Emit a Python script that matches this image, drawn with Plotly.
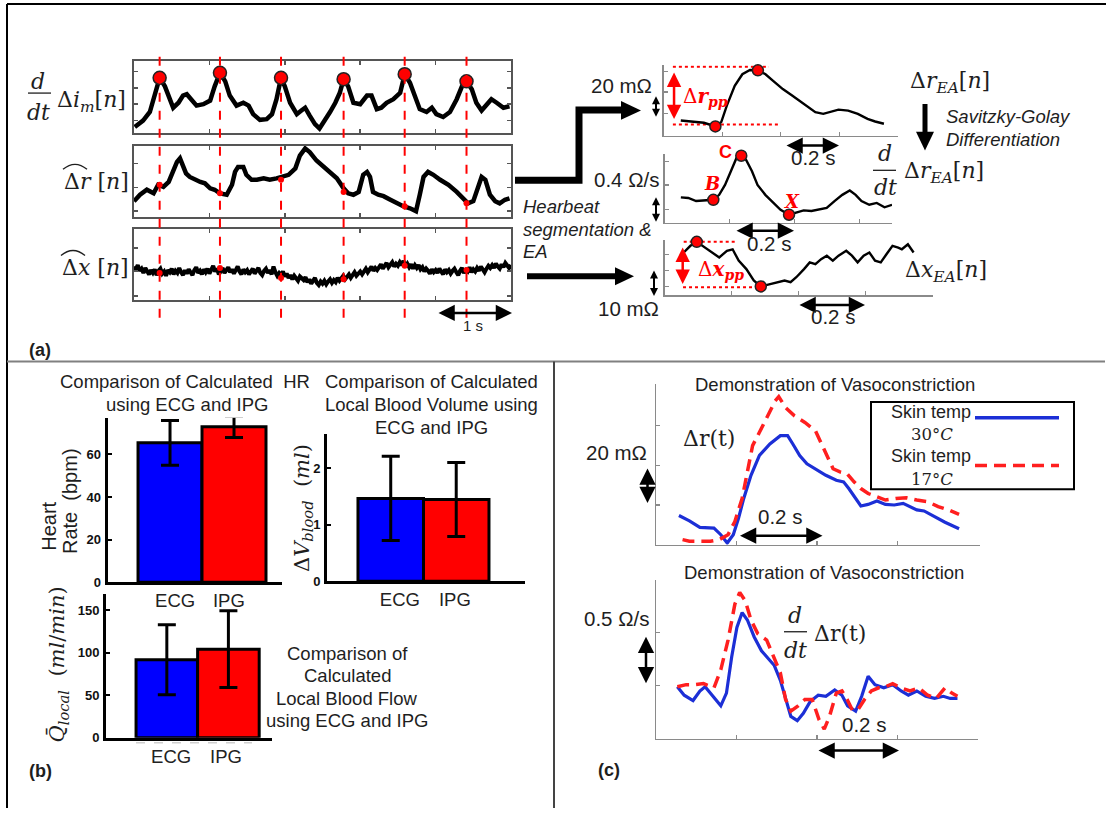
import plotly.graph_objects as go

W, H = 1106, 816
SANS = "Liberation Sans, Arial, sans-serif"
SERIF = "DejaVu Serif, serif"
INK = "#1e1e1e"
BLUE_BAR, RED_BAR = "#0000ff", "#ff0000"
BLUE_LN, RED_LN = "#1c2fd6", "#ff1f1f"


def X(px):
    return px / W


def Y(py):
    return 1 - py / H


# ---------------- data ----------------
# (a) left: three raw traces over 5 s, normalised amplitude
BEAT_T = [0.34, 1.14, 1.95, 2.78, 3.59, 4.41]
IM = [(0.01, 0.08), (0.12, 0.17), (0.21, 0.29), (0.28, 0.56), (0.34, 0.77), (0.41, 0.65), (0.46, 0.52),
      (0.52, 0.35), (0.59, 0.42), (0.65, 0.52), (0.70, 0.54), (0.76, 0.47), (0.83, 0.38), (0.92, 0.40),
      (1.01, 0.45), (1.07, 0.65), (1.14, 0.84), (1.21, 0.72), (1.27, 0.52), (1.36, 0.38), (1.45, 0.42),
      (1.52, 0.38), (1.58, 0.26), (1.67, 0.18), (1.76, 0.19), (1.83, 0.26), (1.89, 0.47), (1.95, 0.77),
      (2.00, 0.65), (2.07, 0.42), (2.16, 0.26), (2.22, 0.31), (2.27, 0.35), (2.33, 0.24), (2.40, 0.12),
      (2.46, 0.06), (2.53, 0.17), (2.60, 0.29), (2.67, 0.42), (2.73, 0.56), (2.78, 0.75), (2.84, 0.65),
      (2.91, 0.42), (3.00, 0.40), (3.09, 0.52), (3.15, 0.52), (3.22, 0.33), (3.28, 0.35), (3.35, 0.42),
      (3.44, 0.47), (3.53, 0.56), (3.59, 0.82), (3.66, 0.70), (3.73, 0.49), (3.79, 0.33), (3.88, 0.29),
      (3.95, 0.35), (4.01, 0.26), (4.10, 0.22), (4.19, 0.29), (4.28, 0.47), (4.35, 0.65), (4.41, 0.72),
      (4.48, 0.61), (4.54, 0.42), (4.61, 0.31), (4.68, 0.40), (4.74, 0.47), (4.81, 0.42), (4.90, 0.35),
      (4.98, 0.37)]
IM_PEAK = [0.77, 0.84, 0.77, 0.75, 0.82, 0.72]

DR = [(0.00, 0.22), (0.08, 0.31), (0.17, 0.38), (0.26, 0.33), (0.32, 0.45), (0.39, 0.42), (0.46, 0.49),
      (0.52, 0.63), (0.57, 0.77), (0.61, 0.82), (0.65, 0.70), (0.69, 0.61), (0.74, 0.56), (0.81, 0.52),
      (0.88, 0.49), (0.94, 0.47), (1.01, 0.40), (1.07, 0.38), (1.14, 0.33), (1.23, 0.31), (1.30, 0.45),
      (1.34, 0.63), (1.38, 0.70), (1.45, 0.70), (1.49, 0.59), (1.56, 0.52), (1.63, 0.52), (1.72, 0.54),
      (1.80, 0.52), (1.89, 0.54), (1.96, 0.56), (2.05, 0.59), (2.14, 0.68), (2.20, 0.86), (2.27, 0.96),
      (2.33, 0.91), (2.42, 0.79), (2.51, 0.70), (2.60, 0.63), (2.69, 0.54), (2.78, 0.40), (2.84, 0.33),
      (2.91, 0.31), (2.98, 0.35), (3.04, 0.59), (3.09, 0.63), (3.13, 0.56), (3.17, 0.35), (3.24, 0.31),
      (3.31, 0.29), (3.40, 0.24), (3.48, 0.19), (3.57, 0.15), (3.66, 0.12), (3.74, 0.08), (3.79, 0.31),
      (3.84, 0.56), (3.90, 0.63), (3.97, 0.59), (4.06, 0.52), (4.17, 0.45), (4.28, 0.35), (4.37, 0.26),
      (4.43, 0.19), (4.50, 0.22), (4.57, 0.45), (4.61, 0.56), (4.66, 0.52), (4.72, 0.31), (4.79, 0.22),
      (4.85, 0.19), (4.92, 0.24), (4.98, 0.26)]
DR_BEAT = [0.45, 0.33, 0.52, 0.35, 0.15, 0.19]

DX_STEP = 0.025  # s between samples
DX_V = [0.47, 0.43, 0.49, 0.41, 0.44, 0.38, 0.45, 0.40, 0.36, 0.42,
        0.38, 0.43, 0.35, 0.41, 0.44, 0.37, 0.40, 0.34, 0.42, 0.39,
        0.44, 0.36, 0.41, 0.38, 0.45, 0.39, 0.35, 0.42, 0.37, 0.43,
        0.40, 0.35, 0.42, 0.46, 0.38, 0.41, 0.36, 0.43, 0.39, 0.44,
        0.37, 0.42, 0.48, 0.40, 0.44, 0.36, 0.41, 0.45, 0.38, 0.42,
        0.46, 0.39, 0.43, 0.37, 0.41, 0.47, 0.40, 0.36, 0.43, 0.39,
        0.42, 0.36, 0.40, 0.44, 0.37, 0.41, 0.45, 0.38, 0.35, 0.41,
        0.44, 0.38, 0.42, 0.36, 0.47, 0.39, 0.34, 0.38, 0.35, 0.40,
        0.33, 0.37, 0.31, 0.35, 0.29, 0.34, 0.31, 0.27, 0.33, 0.30,
        0.28, 0.32, 0.25, 0.29, 0.23, 0.27, 0.31, 0.24, 0.21, 0.26,
        0.23, 0.27, 0.22, 0.26, 0.29, 0.24, 0.28, 0.25, 0.31, 0.27,
        0.30, 0.34, 0.29, 0.33, 0.36, 0.31, 0.35, 0.39, 0.34, 0.37,
        0.40, 0.36, 0.41, 0.44, 0.39, 0.43, 0.47, 0.41, 0.45, 0.42,
        0.46, 0.50, 0.44, 0.48, 0.52, 0.46, 0.49, 0.53, 0.47, 0.51,
        0.48, 0.53, 0.49, 0.55, 0.47, 0.51, 0.46, 0.50, 0.44, 0.49,
        0.45, 0.49, 0.43, 0.46, 0.40, 0.44, 0.41, 0.37, 0.43, 0.39,
        0.42, 0.38, 0.44, 0.40, 0.36, 0.43, 0.39, 0.42, 0.37, 0.41,
        0.44, 0.39, 0.35, 0.41, 0.45, 0.38, 0.42, 0.40, 0.46, 0.39,
        0.43, 0.40, 0.45, 0.41, 0.47, 0.43, 0.39, 0.44, 0.48, 0.45,
        0.49, 0.45, 0.51, 0.47, 0.44, 0.50, 0.46, 0.52, 0.48, 0.45,
        0.49]
DX_BEAT = [0.38, 0.45, 0.31, 0.29, 0.48, 0.42]

# (a) right: ensemble-averaged beats (time in s)
REA = [(0.059, 15.3), (0.098, 14.3), (0.138, 13.0), (0.177, 9.3), (0.197, 13.7), (0.216, 30.3),
       (0.243, 50.3), (0.269, 62.0), (0.295, 66.3), (0.322, 66.0), (0.348, 62.0), (0.374, 55.3),
       (0.407, 47.0), (0.440, 40.3), (0.479, 32.0), (0.518, 23.7), (0.545, 22.0), (0.571, 24.3),
       (0.597, 26.3), (0.630, 25.3), (0.663, 22.0), (0.696, 17.0), (0.722, 14.3), (0.752, 12.0)]  # mOhm
REA_PTS = [(0.177, 9.3), (0.322, 66.0)]
REA_TOP = ([0.032, 0.36], 69.5)
REA_BOT = ([0.032, 0.395], 11.3)
REA_PP = (0.036, 63.7, 15.3)

DREA = [(0.050, 0.41), (0.073, 0.40), (0.097, 0.35), (0.121, 0.36), (0.150, 0.37), (0.168, 0.45),
        (0.186, 0.61), (0.204, 0.83), (0.221, 1.04), (0.236, 1.08), (0.251, 1.01), (0.269, 0.83),
        (0.286, 0.61), (0.310, 0.45), (0.334, 0.32), (0.357, 0.21), (0.383, 0.13), (0.405, 0.16),
        (0.428, 0.20), (0.452, 0.19), (0.476, 0.21), (0.499, 0.24), (0.523, 0.35), (0.547, 0.45),
        (0.570, 0.52), (0.588, 0.45), (0.606, 0.35), (0.630, 0.29), (0.653, 0.32), (0.677, 0.25),
        (0.700, 0.29)]  # Ohm/s
DREA_PTS = [(0.150, 0.37), (0.236, 1.08), (0.383, 0.13)]  # B, C, X

XEA = [(0.057, 17.2), (0.077, 19.9), (0.096, 21.5), (0.117, 19.5), (0.140, 17.2), (0.163, 15.2),
       (0.186, 17.9), (0.203, 18.5), (0.221, 13.9), (0.244, 10.5), (0.266, 5.9), (0.287, 3.5),
       (0.312, 4.3), (0.335, 5.2), (0.358, 5.9), (0.376, 5.2), (0.393, 7.2), (0.416, 10.5),
       (0.433, 13.2), (0.450, 12.5), (0.467, 14.5), (0.484, 15.9), (0.502, 13.9), (0.519, 15.9),
       (0.542, 17.9), (0.559, 15.9), (0.576, 13.2), (0.594, 15.9), (0.611, 17.2), (0.628, 13.9),
       (0.645, 13.2), (0.662, 16.5), (0.680, 19.9), (0.697, 19.2), (0.708, 18.5), (0.726, 20.5),
       (0.743, 17.2)]  # mOhm
XEA_PTS = [(0.096, 21.5), (0.287, 3.5)]
XEA_TOP = ([0.057, 0.215], 21.5)
XEA_BOT = ([0.055, 0.29], 3.2)
XEA_PP = (0.054, 19.2, 3.9)

# (b) bar charts
GROUPS = ["ECG", "IPG"]
HR = [65.5, 73.0]
HR_ERR = [10.5, 5.0]
VB = [1.465, 1.445]
VB_ERR = [0.745, 0.655]
QL = [91.5, 104.0]
QL_ERR = [41.0, 45.0]

# (c) vasoconstriction
C1_30 = [(0.057, 14.7), (0.083, 12.0), (0.109, 8.7), (0.127, 8.3), (0.144, 8.3), (0.161, 5.0), (0.177, 0.8),
         (0.192, 5.0), (0.205, 13.3), (0.218, 23.3), (0.236, 35.0), (0.257, 45.0), (0.283, 50.8),
         (0.309, 55.0), (0.327, 55.0), (0.340, 50.8), (0.357, 45.0), (0.375, 40.8), (0.396, 38.3),
         (0.422, 35.0), (0.448, 32.5), (0.466, 31.7), (0.479, 28.3), (0.496, 23.3), (0.509, 19.5),
         (0.527, 20.3), (0.549, 22.0), (0.570, 20.3), (0.592, 20.0), (0.614, 20.8), (0.631, 19.2),
         (0.648, 17.5), (0.666, 17.0), (0.692, 14.2), (0.718, 11.3), (0.753, 8.0)]
C1_17 = [(0.066, 2.5), (0.083, 1.7), (0.109, 1.7), (0.135, 1.7), (0.157, 2.5), (0.179, 5.0), (0.196, 11.7),
         (0.214, 23.3), (0.227, 36.7), (0.240, 50.0), (0.257, 56.7), (0.279, 65.8), (0.296, 72.5),
         (0.305, 74.7), (0.322, 69.2), (0.344, 65.0), (0.370, 61.7), (0.396, 57.5), (0.418, 47.5),
         (0.440, 38.3), (0.457, 36.7), (0.475, 35.8), (0.492, 31.7), (0.509, 28.3), (0.527, 25.8),
         (0.549, 24.2), (0.570, 22.5), (0.596, 23.3), (0.622, 23.7), (0.648, 22.5), (0.675, 21.7),
         (0.701, 19.2), (0.727, 17.5), (0.753, 15.3)]
C2_30 = [(0.053, 0.49), (0.070, 0.41), (0.092, 0.36), (0.109, 0.45), (0.122, 0.49), (0.140, 0.41),
         (0.161, 0.31), (0.175, 0.43), (0.188, 0.77), (0.201, 1.05), (0.214, 1.19), (0.227, 1.12),
         (0.244, 0.96), (0.262, 0.83), (0.279, 0.76), (0.294, 0.69), (0.309, 0.55), (0.322, 0.37),
         (0.335, 0.21), (0.351, 0.17), (0.366, 0.24), (0.383, 0.35), (0.403, 0.41), (0.422, 0.40),
         (0.444, 0.46), (0.462, 0.41), (0.476, 0.31), (0.496, 0.26), (0.511, 0.40), (0.527, 0.59),
         (0.544, 0.51), (0.566, 0.48), (0.588, 0.51), (0.609, 0.45), (0.627, 0.41), (0.648, 0.45),
         (0.670, 0.40), (0.692, 0.38), (0.714, 0.40), (0.731, 0.38), (0.749, 0.38)]
C2_17 = [(0.053, 0.49), (0.075, 0.51), (0.096, 0.51), (0.118, 0.52), (0.144, 0.48), (0.161, 0.65),
         (0.179, 0.93), (0.196, 1.27), (0.208, 1.38), (0.222, 1.30), (0.236, 1.12), (0.253, 0.99),
         (0.275, 0.93), (0.292, 0.77), (0.309, 0.62), (0.322, 0.37), (0.335, 0.26), (0.353, 0.31),
         (0.370, 0.37), (0.388, 0.37), (0.405, 0.18), (0.418, 0.09), (0.431, 0.21), (0.448, 0.43),
         (0.462, 0.45), (0.475, 0.37), (0.488, 0.27), (0.501, 0.27), (0.518, 0.37), (0.535, 0.45),
         (0.553, 0.48), (0.570, 0.49), (0.588, 0.52), (0.609, 0.48), (0.631, 0.45), (0.653, 0.48),
         (0.675, 0.41), (0.696, 0.38), (0.718, 0.48), (0.735, 0.43), (0.749, 0.40)]

# ---------------- layout of panels (pixel boxes) ----------------
PANELS = {
    "a1": (1, (134, 511), (62, 134), [0, 5], [0, 1]),
    "a2": (2, (134, 511), (147, 219), [0, 5], [0, 1]),
    "a3": (3, (134, 511), (231, 303), [0, 5], [0, 1]),
    "r1": (4, (663.5, 898), (66, 137), [0, 0.8], [0, 71]),
    "r2": (5, (664.6, 892), (156, 225), [0, 0.70], [0, 1.10]),
    "r3": (6, (664.6, 932.7), (242, 298), [0, 0.80], [0, 22.4]),
    "b1": (7, (107.5, 282), (422, 588), [0.023, 2.75], [0, 77.2]),
    "b2": (8, (327, 525), (438, 587), [0.027, 3.05], [0, 2.61]),
    "b3": (9, (106, 271.5), (600, 745), [0.012, 2.70], [0, 168.6]),
    "c1": (10, (656, 980), (388, 550), [0, 0.805], [0, 81]),
    "c2": (11, (656, 978), (586, 746), [0, 0.80], [0, 1.495]),
}


def sfx(name):
    i = PANELS[name][0]
    return "" if i == 1 else str(i)


layout = dict(width=W, height=H, margin=dict(l=0, r=0, t=0, b=0), paper_bgcolor="white",
              plot_bgcolor="rgba(0,0,0,0)", showlegend=False, font=dict(family=SANS, color=INK))

for name, (i, (x0, x1), (y0, y1), xr, yr) in PANELS.items():
    s = sfx(name)
    layout["xaxis" + s] = dict(domain=[X(x0), X(x1)], range=xr, anchor="y" + s, showgrid=False,
                               zeroline=False, fixedrange=True, showticklabels=False, ticks="")
    layout["yaxis" + s] = dict(domain=[Y(y1), Y(y0)], range=yr, anchor="x" + s, showgrid=False,
                               zeroline=False, fixedrange=True, showticklabels=False, ticks="")

A_YTICKS = {"a1": [0.17, 0.40, 0.63, 0.86], "a2": [0.08, 0.41, 0.75], "a3": [0.06, 0.41, 0.73]}
for name in ["a1", "a2", "a3"]:
    s = sfx(name)
    box = dict(showline=True, linecolor="#555", linewidth=2, mirror="ticks", ticks="inside",
               ticklen=4, tickcolor="#555", tickwidth=1.5)
    layout["xaxis" + s].update(box, tickvals=[1, 2, 3, 4])
    layout["yaxis" + s].update(box, tickvals=A_YTICKS[name])

R_YTICKS = {"r1": [22, 44, 65], "r2": [0.21, 0.61, 0.99], "r3": [3.6, 10, 16.4],
            "c1": [20, 40, 60], "c2": [0.5, 1.0]}
for name in ["r1", "r2", "r3", "c1", "c2"]:
    s = sfx(name)
    ax = dict(showline=True, linecolor="#8a8a8a", linewidth=1.5, ticks="inside", ticklen=4,
              tickcolor="#8a8a8a", tickwidth=1.2)
    layout["xaxis" + s].update(ax, tickvals=[0.2, 0.4, 0.6])
    layout["yaxis" + s].update(ax, tickvals=R_YTICKS[name])

B_SPEC = {"b1": ([0, 20, 40, 60], [1.08, 1.92]), "b2": ([0, 1, 2], [1.14, 1.98]),
          "b3": ([0, 50, 100, 150], [1.07, 1.96])}
for name, (yt, xt) in B_SPEC.items():
    s = sfx(name)
    layout["xaxis" + s].update(showline=True, linecolor="black", linewidth=3, tickvals=xt,
                               ticktext=GROUPS, showticklabels=True,
                               tickfont=dict(family=SANS, size=18.5, color="#222"))
    layout["yaxis" + s].update(showline=True, linecolor="black", linewidth=3, tickvals=yt,
                               showticklabels=True, ticks="inside", ticklen=4, tickwidth=2,
                               tickcolor="black", ticklabelstandoff=1,
                               tickfont=dict(family=SANS, size=13, color="#111", weight="bold"))

fig = go.Figure()


def add_line(name, pts, color="black", width=2.2, dash=None):
    s = sfx(name)
    t, v = zip(*pts)
    fig.add_trace(go.Scatter(x=list(t), y=list(v), mode="lines", xaxis="x" + s, yaxis="y" + s,
                             line=dict(color=color, width=width, dash=dash), cliponaxis=False,
                             hoverinfo="skip"))


def add_pts(name, t, v, size=11, edge=1.5):
    s = sfx(name)
    fig.add_trace(go.Scatter(x=list(t), y=list(v), mode="markers", xaxis="x" + s, yaxis="y" + s,
                             marker=dict(color="#ff0000", size=size,
                                         line=dict(color="#222", width=edge)),
                             cliponaxis=False, hoverinfo="skip"))


# (a) left traces
add_line("a1", IM, width=4.5)
add_pts("a1", BEAT_T, IM_PEAK, size=13, edge=1.5)
add_line("a2", DR, width=4.5)
add_pts("a2", BEAT_T, DR_BEAT, size=6, edge=0)
DX = [(k * DX_STEP, v) for k, v in enumerate(DX_V)]
add_line("a3", DX, width=4)
add_pts("a3", BEAT_T, DX_BEAT, size=6, edge=0)

# (a) right traces
for name, (xs, yv) in [("r1", REA_TOP), ("r1", REA_BOT), ("r3", XEA_TOP), ("r3", XEA_BOT)]:
    add_line(name, [(xs[0], yv), (xs[1], yv)], color="#ff0000", width=2, dash="dot")
add_line("r1", REA, width=2.4)
add_pts("r1", *zip(*REA_PTS))
add_line("r2", DREA, width=2.4)
add_pts("r2", *zip(*DREA_PTS))
add_line("r3", XEA, width=2.4)
add_pts("r3", *zip(*XEA_PTS))

# (b) bars
for name, vals, errs in [("b1", HR, HR_ERR), ("b2", VB, VB_ERR), ("b3", QL, QL_ERR)]:
    s = sfx(name)
    fig.add_trace(go.Bar(x=[1, 2], y=vals, width=[1, 1], xaxis="x" + s, yaxis="y" + s,
                         marker=dict(color=[BLUE_BAR, RED_BAR], line=dict(color="black", width=3)),
                         error_y=dict(type="data", array=errs, color="black", thickness=3, width=9),
                         hoverinfo="skip"))

# (c) lines
add_line("c1", C1_30, color=BLUE_LN, width=3.2)
add_line("c1", C1_17, color=RED_LN, width=3.5, dash="12px,7px")
add_line("c2", C2_30, color=BLUE_LN, width=3.2)
add_line("c2", C2_17, color=RED_LN, width=3.5, dash="12px,7px")

# ---------------- annotations ----------------
ann = []


def txt(px, py, text, size=18.5, family=SANS, color=INK, xanchor="center", angle=0):
    ann.append(dict(x=X(px), y=Y(py), xref="paper", yref="paper", text=text, showarrow=False,
                    xanchor=xanchor, yanchor="middle", textangle=angle,
                    font=dict(family=family, size=size, color=color)))


def dbl(px0, py0, px1, py1, color="black", width=2.5, size=1.3):
    ann.append(dict(x=X(px1), y=Y(py1), xref="paper", yref="paper", ax=px0 - px1, ay=py0 - py1,
                    axref="pixel", ayref="pixel", text="", showarrow=True, arrowside="end+start",
                    arrowhead=2, arrowsize=size, arrowwidth=width, arrowcolor=color,
                    standoff=0, startstandoff=0))


def red_pp(name, spec):
    s = sfx(name)
    t, top, bot = spec
    ann.append(dict(x=t, y=top, xref="x" + s, yref="y" + s, ax=t, ay=bot, axref="x" + s,
                    ayref="y" + s, text="", showarrow=True, arrowside="end+start", arrowhead=2,
                    arrowsize=1.15, arrowwidth=2.5, arrowcolor="#ff0000", standoff=0,
                    startstandoff=0))


# (a) labels
txt(38, 82, "<i>d</i>", 22, SERIF)
txt(38, 114, "<i>dt</i>", 22, SERIF)
txt(55, 103, "Δ<i>i</i><sub><i>m</i></sub>[<i>n</i>]", 22, SERIF, xanchor="left")
txt(62, 183, "Δ<i>r</i> [<i>n</i>]", 22, SERIF, xanchor="left")
txt(60, 270, "Δ<i>x</i> [<i>n</i>]", 22, SERIF, xanchor="left")
dbl(437, 316, 512, 316)
txt(473, 329, "1 s", 15)
txt(27, 353, "<b>(a)</b>", 18, xanchor="left")
txt(521, 209, "<i>Hearbeat</i>", xanchor="left")
txt(521, 232, "<i>segmentation &amp;</i>", xanchor="left")
txt(521, 254, "<i>EA</i>", xanchor="left")

txt(621, 86, "20 mΩ", 20.5)
dbl(656, 96, 656, 118, width=2, size=0.8)
txt(681, 98, "Δ<b><i>r</i></b><sub><b><i>pp</i></b></sub>", 20, SERIF, "#ff0000", "left")
red_pp("r1", REA_PP)
dbl(785, 147, 839, 147)
txt(813, 159, "0.2 s", 20.5)
txt(908, 83, "Δ<i>r</i><sub><i>EA</i></sub>[<i>n</i>]", 22, SERIF, xanchor="left")
txt(944, 118, "<i>Savitzky-Golay</i>", 18.5, xanchor="left")
txt(944, 141, "<i>Differentiation</i>", 18.5, xanchor="left")

txt(626, 181, "0.4 Ω/s", 20.5)
dbl(656, 198, 656, 224, width=2, size=0.8)
txt(725, 153, "<b>C</b>", 18, SANS, "#ff0000")
txt(711.5, 185, "<b><i>B</i></b>", 18, SERIF, "#ff0000")
txt(791.5, 203, "<b><i>X</i></b>", 18, SERIF, "#ff0000")
dbl(735, 233, 794, 233)
txt(769, 246, "0.2 s", 20.5)
txt(885, 155, "<i>d</i>", 22, SERIF)
txt(885, 189, "<i>dt</i>", 22, SERIF)
txt(902, 174, "Δ<i>r</i><sub><i>EA</i></sub>[<i>n</i>]", 22, SERIF, xanchor="left")

txt(628, 312, "10 mΩ", 20.5)
dbl(654, 272, 654, 299, width=2, size=0.8)
txt(696, 273, "Δ<b><i>x</i></b><sub><b><i>pp</i></b></sub>", 20, SERIF, "#ff0000", "left")
red_pp("r3", XEA_PP)
dbl(798, 308, 865, 308)
txt(833, 320, "0.2 s", 20.5)
txt(903, 274, "Δ<i>x</i><sub><i>EA</i></sub>[<i>n</i>]", 22, SERIF, xanchor="left")

# (b) labels
txt(185, 385, "Comparison of Calculated  HR")
txt(187, 408, "using ECG and IPG")
txt(431, 385, "Comparison of Calculated")
txt(431, 409, "Local Blood Volume using")
txt(431, 432, "ECG and IPG")
for i, line in enumerate(["Comparison of", "Calculated", "Local Blood Flow", "using ECG and IPG"]):
    txt(347, 660 + 22.5 * i, line)
txt(49, 532, "Heart", 20, angle=-90)
txt(70, 506, "Rate  (bpm)", 20, angle=-90)
txt(303, 513, "Δ<i>V</i><sub><i>blood</i></sub>  (<i>ml</i>)", 21, SERIF, angle=-90)
txt(58, 671, "<i>Q̄</i><sub><i>local</i></sub>  (<i>ml</i>/<i>min</i>)", 21, SERIF, angle=-90)
txt(27, 779, "<b>(b)</b>", 18, xanchor="left")

# (c) labels
txt(835, 388, "Demonstration of Vasoconstriction")
txt(824, 578, "Demonstration of Vasoconstriction")
txt(681, 443, "Δr(t)", 22, SERIF, xanchor="left")
txt(616.5, 457, "20 mΩ", 20.5)
dbl(647.5, 472, 647.5, 508)
dbl(738.5, 541, 822.5, 541)
txt(780, 522, "0.2 s", 20.5)
txt(616, 625, "0.5 Ω/s", 20.5)
dbl(646, 642, 646, 690)
txt(794.5, 622, "<i>d</i>", 22, SERIF)
txt(795, 657, "<i>dt</i>", 22, SERIF)
txt(812, 640, "Δr(t)", 22, SERIF, xanchor="left")
dbl(817, 758, 899, 758)
txt(864.5, 732, "0.2 s", 20.5)
txt(931, 416, "Skin temp", 18)
txt(932, 439, "30°<i>C</i>", 16.5, SERIF)
txt(931, 461, "Skin temp", 18)
txt(932, 484, "17°<i>C</i>", 16.5, SERIF)
txt(596, 778, "<b>(c)</b>", 18, xanchor="left")

# ---------------- shapes ----------------
shapes = []


def seg(px0, py0, px1, py1, color="black", width=2, dash=None):
    shapes.append(dict(type="line", xref="paper", yref="paper", x0=X(px0), y0=Y(py0), x1=X(px1),
                       y1=Y(py1), line=dict(color=color, width=width, dash=dash)))


def poly(pts, color="black", width=0, closed=True, fill=True):
    d = "M " + " L ".join(f"{X(a):.5f},{Y(b):.5f}" for a, b in pts) + (" Z" if closed else "")
    shapes.append(dict(type="path", xref="paper", yref="paper", path=d,
                       fillcolor=color if fill else "rgba(0,0,0,0)",
                       line=dict(color=color, width=width)))


# frame
seg(7, 4, 1106, 4, "black", 2)
seg(7, 4, 7, 816, "black", 2)
seg(7, 365, 1105, 365, "#808080", 2)
seg(554, 365, 554, 816, "#444", 2)

# beat markers: red dashed verticals through all three (a) panels
for t in BEAT_T:
    shapes.append(dict(type="line", xref="x", yref="paper", x0=t, x1=t, y0=Y(321), y1=Y(57),
                       line=dict(color="#ff0000", width=2, dash="dash")))

# fraction bars and hats
seg(28, 94, 51, 94, INK, 1.3)
seg(873, 172, 896, 172, INK, 1.3)
seg(784, 638, 807, 638, INK, 1.3)
shapes.append(dict(type="path", xref="paper", yref="paper",
                   path=f"M {X(63)},{Y(171)} Q {X(75)},{Y(161)} {X(87)},{Y(171)}",
                   line=dict(color=INK, width=1.4)))
shapes.append(dict(type="path", xref="paper", yref="paper",
                   path=f"M {X(61)},{Y(258)} Q {X(73)},{Y(248)} {X(85)},{Y(258)}",
                   line=dict(color=INK, width=1.4)))

# thick flow arrows
poly([(515, 182), (579, 182), (579, 111), (624, 111)], "black", 7, closed=False, fill=False)
poly([(621, 102), (641, 111.5), (621, 121)])
seg(527, 279, 618, 279, "black", 6)
poly([(615, 270), (634, 279), (615, 288)])
seg(925, 105, 925, 136, "black", 5)
poly([(916, 133), (925, 152), (934, 133)])

# (b) faint dashed baseline under the flow bars
seg(136, 750, 252, 750, "#cfcfcf", 1.5, "dash")

# (c) legend box
shapes.append(dict(type="rect", xref="paper", yref="paper", x0=X(871), x1=X(1074), y0=Y(494),
                   y1=Y(406), line=dict(color="black", width=2)))
seg(975, 422, 1059, 422, BLUE_LN, 3.5)
seg(975, 470, 1059, 470, RED_LN, 3.5, "12px,7px")

layout["annotations"] = ann
layout["shapes"] = shapes
fig.update_layout(**layout)
fig.write_html("out.html", config={"displayModeBar": False, "staticPlot": True},
               post_script="document.body.style.margin='0px';")
